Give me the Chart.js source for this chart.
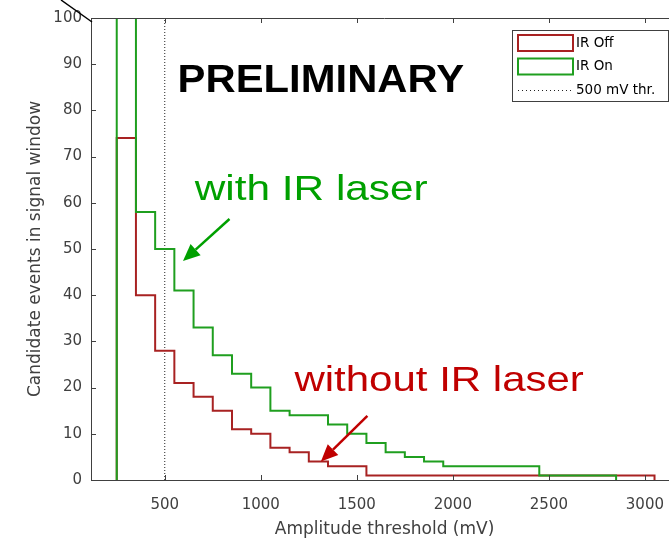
<!DOCTYPE html>
<html>
<head>
<meta charset="utf-8">
<title>Candidate events vs amplitude threshold</title>
<script src="https://cdn.jsdelivr.net/npm/chart.js@4.4.0/dist/chart.umd.min.js"></script>
<style>
  html, body { margin: 0; padding: 0; background: #fff; overflow: hidden; }
  #wrap { width: 680px; height: 540px; }
</style>
</head>
<body>
<div id="wrap"><canvas id="chart"></canvas></div>
<script>
// bin edges (mV), one more than the number of bins
const binEdges = [250, 350, 450, 550, 650, 750, 850, 950, 1050, 1150, 1250, 1350, 1450, 1550,
  1650, 1750, 1850, 1950, 2050, 2150, 2250, 2350, 2450, 2550, 2650, 2750, 2850, 2950, 3050];
// counts per bin
const irOff = [74, 40, 28, 21, 18, 15, 11, 10, 7, 6, 4, 3, 3, 1, 1, 1, 1, 1, 1, 1, 1, 1, 1, 1, 1, 1, 1, 1];
const irOn = [100, 58, 50, 41, 33, 27, 23, 20, 15, 14, 14, 12, 10, 8, 6, 5, 4, 3, 3, 3, 3, 3, 1, 1, 1, 1];
const thresholdX = [500, 500];
const thresholdY = [0, 100];
const xTicks = [500, 1000, 1500, 2000, 2500, 3000];
const yTicks = [0, 10, 20, 30, 40, 50, 60, 70, 80, 90, 100];

// text notes and arrows, placed in data units
const notes = [
  { text: "PRELIMINARY", x: 567, y: 84, color: "#000000", font: 'bold 38px "Liberation Sans"', stretch: 1.1 },
  { text: "with IR laser", x: 656, y: 60.7, color: "#00a000", font: '35px "Liberation Sans"', stretch: 1.21 },
  { text: "without IR laser", x: 1175, y: 19.2, color: "#c00000", font: '35px "Liberation Sans"', stretch: 1.2 },
];
const arrows = [
  { from: [837, 56.5], to: [595, 47.4], color: "#00a000" },
  { from: [1555, 13.9], to: [1313, 4.0], color: "#c00000" },
];

const AXIS = "#404040";
const TEXT = "#404040";

// histogram outline: rise at first edge, flat per bin, drop at last edge
function stairs(counts) {
  const pts = [{ x: binEdges[0], y: 0 }];
  counts.forEach((c, i) => pts.push({ x: binEdges[i], y: c }));
  pts.push({ x: binEdges[counts.length], y: 0 });
  return pts;
}

const decorations = {
  id: "decorations",
  afterDraw(chart) {
    const { ctx, chartArea: a, scales } = chart;
    const sx = scales.x, sy = scales.y;

    ctx.save();
    // box top edge and inward tick marks
    ctx.strokeStyle = AXIS;
    ctx.lineWidth = 1;
    ctx.beginPath();
    ctx.moveTo(a.left, a.top + 0.5);
    ctx.lineTo(a.right, a.top + 0.5);
    sx.ticks.forEach((t) => {
      const px = Math.round(sx.getPixelForValue(t.value)) + 0.5;
      ctx.moveTo(px, a.bottom);
      ctx.lineTo(px, a.bottom - 5);
      ctx.moveTo(px, a.top);
      ctx.lineTo(px, a.top + 5);
    });
    sy.ticks.forEach((t) => {
      const py = Math.round(sy.getPixelForValue(t.value)) + 0.5;
      ctx.moveTo(a.left, py);
      ctx.lineTo(a.left + 5, py);
    });
    ctx.stroke();

    // stray line at the top-left corner
    ctx.strokeStyle = "#000";
    ctx.lineWidth = 1.5;
    ctx.beginPath();
    ctx.moveTo(a.left - 30, 0);
    ctx.lineTo(a.left + 1, a.top + 4);
    ctx.stroke();

    // notes
    notes.forEach((n) => {
      ctx.save();
      ctx.font = n.font;
      ctx.fillStyle = n.color;
      ctx.textBaseline = "alphabetic";
      ctx.translate(sx.getPixelForValue(n.x), sy.getPixelForValue(n.y));
      ctx.scale(n.stretch, 1);
      ctx.fillText(n.text, 0, 0);
      ctx.restore();
    });

    // arrows
    arrows.forEach((ar) => {
      const x0 = sx.getPixelForValue(ar.from[0]), y0 = sy.getPixelForValue(ar.from[1]);
      const x1 = sx.getPixelForValue(ar.to[0]), y1 = sy.getPixelForValue(ar.to[1]);
      const ang = Math.atan2(y1 - y0, x1 - x0);
      const head = 17, half = 7.5;
      const bx = x1 - head * Math.cos(ang), by = y1 - head * Math.sin(ang);
      ctx.strokeStyle = ar.color;
      ctx.fillStyle = ar.color;
      ctx.lineWidth = 2.5;
      ctx.beginPath();
      ctx.moveTo(x0, y0);
      ctx.lineTo(bx, by);
      ctx.stroke();
      ctx.beginPath();
      ctx.moveTo(x1, y1);
      ctx.lineTo(bx + half * Math.sin(ang), by - half * Math.cos(ang));
      ctx.lineTo(bx - half * Math.sin(ang), by + half * Math.cos(ang));
      ctx.closePath();
      ctx.fill();
    });

    // legend box
    const lx = 512, ly = 30, lw = 156, lh = 71;
    ctx.fillStyle = "#fff";
    ctx.fillRect(lx, ly, lw, lh);
    ctx.strokeStyle = AXIS;
    ctx.lineWidth = 1;
    ctx.strokeRect(lx + 0.5, ly + 0.5, lw, lh);
    ctx.font = '13.5px "DejaVu Sans"';
    ctx.textBaseline = "middle";
    chart.data.datasets.forEach((ds, i) => {
      const cy = ly + 13 + i * 23.5;
      ctx.strokeStyle = ds.borderColor;
      if (ds.borderDash) {
        ctx.lineWidth = 1;
        ctx.setLineDash([1, 3]);
        ctx.beginPath();
        ctx.moveTo(lx + 6, cy + 0.5);
        ctx.lineTo(lx + 61, cy + 0.5);
        ctx.stroke();
        ctx.setLineDash([]);
      } else {
        ctx.lineWidth = 2;
        ctx.strokeRect(lx + 6, cy - 8, 55, 16);
      }
      ctx.fillStyle = "#000";
      ctx.fillText(ds.label, lx + 64, cy);
    });
    ctx.restore();
  },
};

const ctx = document.getElementById("chart").getContext("2d");
const chart = new Chart(ctx, {
  type: "line",
  data: {
    datasets: [
      {
        label: "IR Off",
        data: stairs(irOff),
        borderColor: "#a82222",
        borderWidth: 2,
        stepped: true,
        pointRadius: 0,
        fill: false,
        order: 1,
      },
      {
        label: "IR On",
        data: stairs(irOn),
        borderColor: "#1f9f1f",
        borderWidth: 2,
        stepped: true,
        pointRadius: 0,
        fill: false,
        order: 0,
      },
      {
        label: "500 mV thr.",
        data: thresholdX.map((x, i) => ({ x: x, y: thresholdY[i] })),
        borderColor: "#222222",
        borderWidth: 1,
        borderDash: [1, 2],
        pointRadius: 0,
        fill: false,
        order: 2,
      },
    ],
  },
  options: {
    responsive: true,
    maintainAspectRatio: false,
    animation: false,
    layout: { padding: { top: 15, right: 0, bottom: 0, left: 0 } },
    plugins: {
      legend: { display: false },
      tooltip: { enabled: false },
    },
    scales: {
      x: {
        type: "linear",
        min: 116,
        max: 3173,
        afterBuildTicks: (scale) => {
          scale.ticks = xTicks.map((v) => ({ value: v }));
        },
        afterFit: (scale) => {
          scale.height = 60;
        },
        grid: { display: false, drawTicks: false },
        border: { display: true, color: AXIS, width: 1 },
        ticks: {
          padding: 16,
          color: TEXT,
          font: { family: "DejaVu Sans", size: 15 },
          maxRotation: 0,
          callback: (v) => String(v),
        },
        title: {
          display: true,
          text: "Amplitude threshold (mV)",
          color: TEXT,
          font: { family: "DejaVu Sans", size: 17 },
          padding: { top: 0, bottom: 0 },
        },
      },
      y: {
        type: "linear",
        min: 0,
        max: 100,
        afterBuildTicks: (scale) => {
          scale.ticks = yTicks.map((v) => ({ value: v }));
        },
        afterFit: (scale) => {
          scale.width = 91;
        },
        grid: { display: false, drawTicks: false },
        border: { display: true, color: AXIS, width: 1 },
        ticks: {
          padding: 9,
          color: TEXT,
          font: { family: "DejaVu Sans", size: 15 },
          callback: (v) => String(v),
        },
        title: {
          display: true,
          text: "Candidate events in signal window",
          color: TEXT,
          font: { family: "DejaVu Sans", size: 17 },
          padding: { top: 25, bottom: 0 },
        },
      },
    },
  },
  plugins: [decorations],
});
</script>
</body>
</html>
